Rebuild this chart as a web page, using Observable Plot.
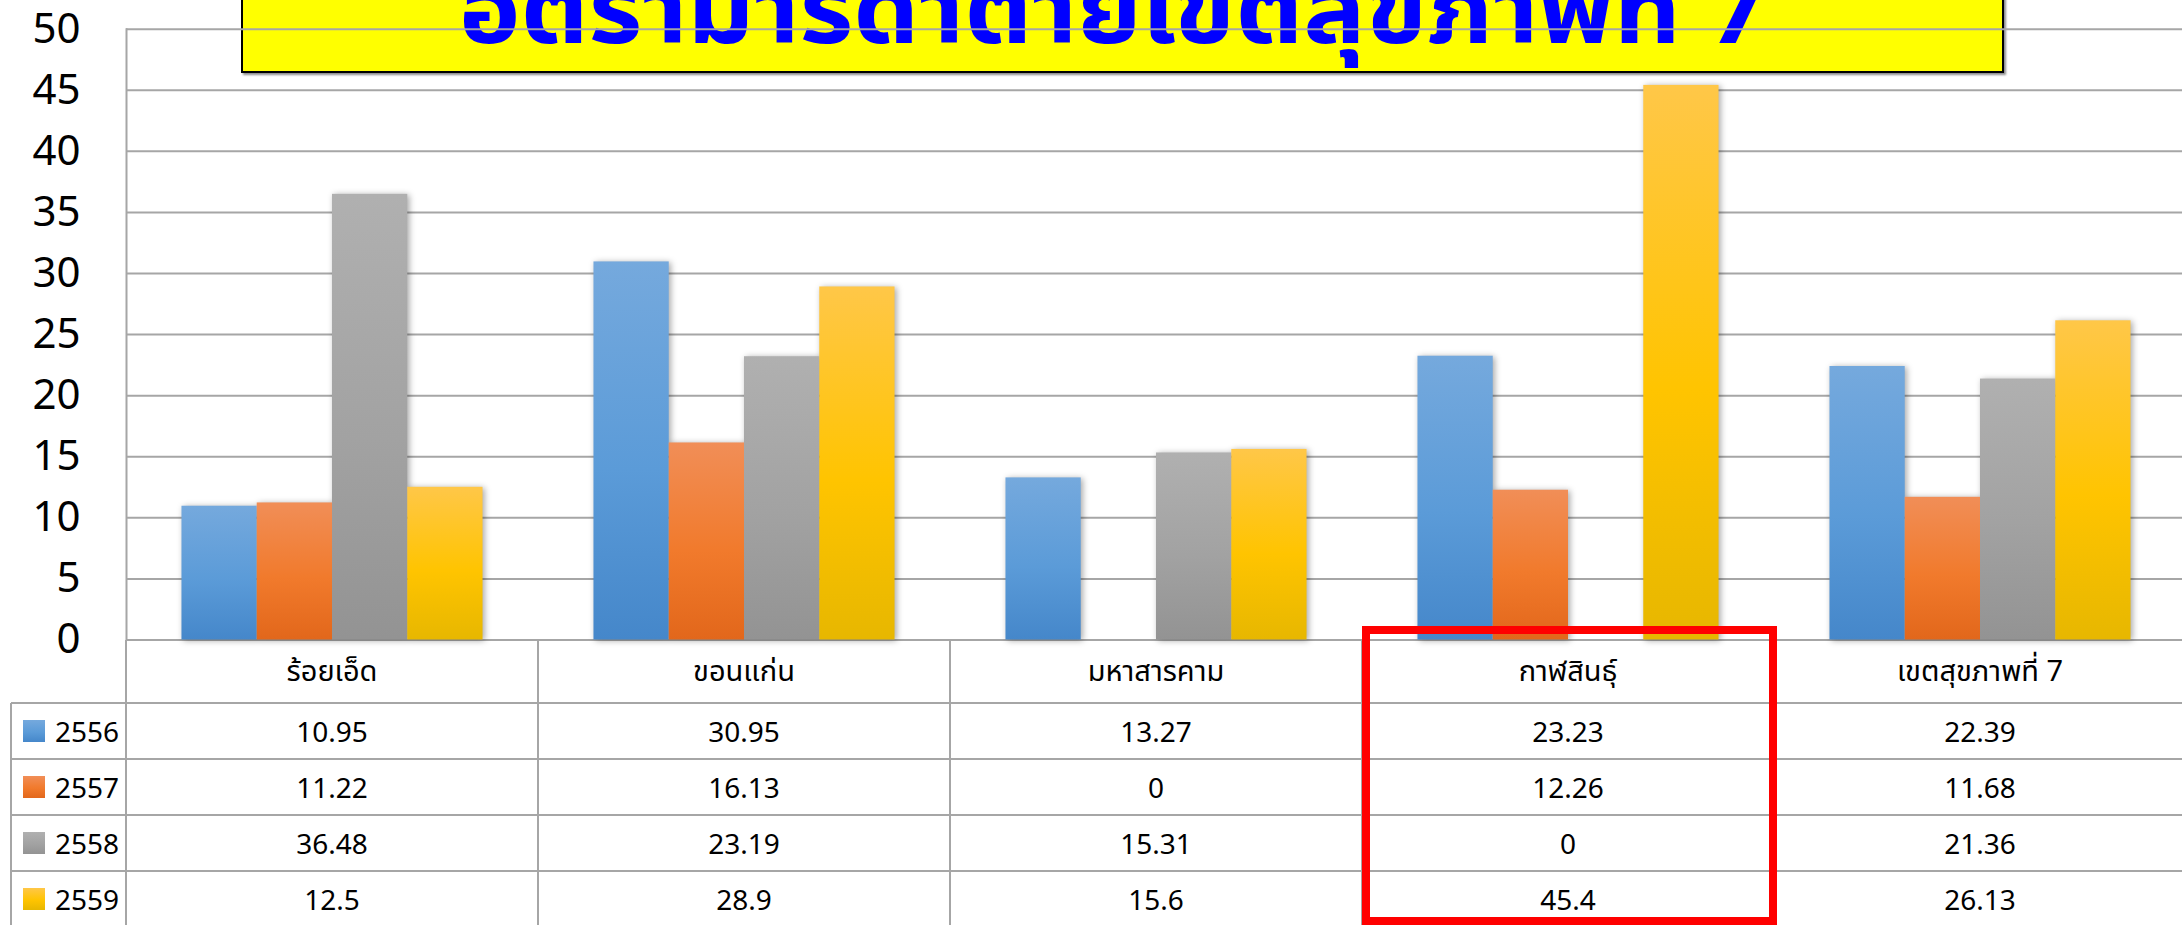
<!DOCTYPE html>
<html>
<head>
<meta charset="utf-8">
<script src="https://cdn.jsdelivr.net/npm/d3@7"></script>
<script src="https://cdn.jsdelivr.net/npm/@observablehq/plot@0.6"></script>
<style>
  html, body { margin: 0; padding: 0; background: #fff; }
  #root { position: relative; width: 2182px; height: 925px; overflow: hidden;
          font-family: "Noto Sans", "Noto Sans Thai", "Loma", "Garuda", sans-serif; color: #000; }
  .abs { position: absolute; }
  .cell { position: absolute; display: flex; align-items: center; justify-content: center; white-space: nowrap; }
</style>
</head>
<body>
<div id="root"></div>
<script>
// ---------------- data ----------------
const title = "อัตรามารดาตายเขตสุขภาพที่ 7";
const categories = ["ร้อยเอ็ด", "ขอนแก่น", "มหาสารคาม", "กาฬสินธุ์", "เขตสุขภาพที่ 7"];
const years = ["2556", "2557", "2558", "2559"];
const v2556 = [10.95, 30.95, 13.27, 23.23, 22.39];
const v2557 = [11.22, 16.13, 0, 12.26, 11.68];
const v2558 = [36.48, 23.19, 15.31, 0, 21.36];
const v2559 = [12.5, 28.9, 15.6, 45.4, 26.13];
const yTicks = [0, 5, 10, 15, 20, 25, 30, 35, 40, 45, 50];
const highlighted = "กาฬสินธุ์";

// ---------------- styles ----------------
const gradientStops = {
  "2556": ["#75a9dd", "#5b9bd8", "#4587ca"],
  "2557": ["#f18e57", "#f17a2c", "#e2671b"],
  "2558": ["#b0b0b0", "#a2a2a2", "#939393"],
  "2559": ["#ffc748", "#ffc400", "#e7b700"]
};
const gridColor = "#a6a6a6";

const series = [v2556, v2557, v2558, v2559];
const rows = categories.flatMap((c, i) => years.map((y, j) => ({cat: c, year: y, value: series[j][i]})));

const root = document.getElementById("root");

// title box (behind the chart: gridlines pass over it)
const box = document.createElement("div");
box.className = "abs";
Object.assign(box.style, {left: "241px", top: "-30px", width: "1763px", height: "103px",
  background: "#ffff00", border: "2px solid #000", boxSizing: "border-box",
  boxShadow: "2px 2px 2px rgba(0,0,0,0.45)", zIndex: 1});
root.appendChild(box);

const tsvg = d3.create("svg").attr("width", 2182).attr("height", 90)
  .attr("class", "abs").style("left", "0px").style("top", "0px").style("z-index", 2);
tsvg.append("text")
  .attr("x", 459).attr("y", 43)
  .attr("textLength", 1308).attr("lengthAdjust", "spacingAndGlyphs")
  .attr("fill", "#0000ff")
  .attr("font-family", "'Noto Sans Thai', 'Noto Sans Thai UI', Loma, Garuda, Tahoma, 'Noto Sans', sans-serif")
  .attr("font-weight", "bold").attr("font-size", 96)
  .text(title);
root.appendChild(tsvg.node());

// ---------------- chart ----------------
const chart = Plot.plot({
  width: 2182,
  height: 644,
  marginTop: 28.7,
  marginBottom: 4.5,
  marginLeft: 126,
  marginRight: -4,
  style: {fontFamily: "'Noto Sans', sans-serif", fontSize: "42px", background: "transparent", color: "#000", overflow: "visible"},
  fx: {domain: categories, padding: 0, axis: null, round: false},
  x: {domain: years, paddingInner: 0, paddingOuter: 0.737, axis: null, round: false},
  y: {domain: [0, 50], ticks: yTicks, tickSize: 0, tickPadding: 46, label: null},
  color: {domain: years, range: years.map(y => `url(#grad-${y})`)},
  marks: [
    Plot.ruleY(yTicks, {stroke: gridColor, strokeWidth: 2}),
    Plot.frame({anchor: "left", fx: categories[0], stroke: gridColor, strokeWidth: 2}),
    Plot.barY(rows, {fx: "cat", x: "year", y: "value", fill: "year",
      imageFilter: "drop-shadow(2px 1px 3px rgba(0,0,0,0.35))"})
  ]
});
const csvg = d3.select(chart);
const defs = csvg.insert("defs", ":first-child");
for (const y of years) {
  const g = defs.append("linearGradient").attr("id", `grad-${y}`)
    .attr("x1", 0).attr("y1", 0).attr("x2", 0).attr("y2", 1);
  const st = gradientStops[y];
  g.append("stop").attr("offset", "0%").attr("stop-color", st[0]);
  g.append("stop").attr("offset", "55%").attr("stop-color", st[1]);
  g.append("stop").attr("offset", "100%").attr("stop-color", st[2]);
}
const cwrap = document.createElement("div");
cwrap.className = "abs";
Object.assign(cwrap.style, {left: "0px", top: "0px", zIndex: 3});
cwrap.appendChild(chart);
root.appendChild(cwrap);

// ---------------- data table (below chart) ----------------
const fx = chart.scale("fx");
const bw = fx.bandwidth;
const colX = c => fx.apply ? fx.apply(c) : fx.range[0] + categories.indexOf(c) * bw;
const tableTop = 640, headerH = 63.3, rowH = 55.8, legendLeft = 11;
const plotLeft = colX(categories[0]);

const tbl = document.createElement("div");
tbl.className = "abs";
Object.assign(tbl.style, {left: "0px", top: "0px", width: "2182px", height: "925px", zIndex: 4});
root.appendChild(tbl);

function line(x, y, w, h) {
  const d = document.createElement("div");
  d.className = "abs";
  Object.assign(d.style, {left: x + "px", top: y + "px", width: w + "px", height: h + "px", background: gridColor});
  tbl.appendChild(d);
}
const bottom = tableTop + headerH + rowH * years.length;
// vertical lines
for (const c of categories) line(colX(c) - 1, tableTop, 2, bottom - tableTop);
line(legendLeft - 1, tableTop + headerH, 2, bottom - tableTop - headerH);
// horizontal lines
years.forEach((y, j) => line(legendLeft, tableTop + headerH + j * rowH - 1, 2182 - legendLeft, 2));

function cell(x, y, w, h, text, size, extra) {
  const d = document.createElement("div");
  d.className = "cell";
  Object.assign(d.style, {left: x + "px", top: y + "px", width: w + "px", height: h + "px", fontSize: size + "px"}, extra || {});
  d.textContent = text;
  tbl.appendChild(d);
  return d;
}
categories.forEach(c => cell(colX(c), tableTop, bw, headerH, c, 29,
  {fontFamily: "'Noto Sans Thai', 'Noto Sans', Loma, Garuda, sans-serif"}));
years.forEach((y, j) => {
  const top = tableTop + headerH + j * rowH;
  categories.forEach((c, i) => cell(colX(c), top, bw, rowH, String(series[j][i]), 28));
  const lg = cell(legendLeft, top, plotLeft - legendLeft, rowH, "", 28, {justifyContent: "flex-start"});
  const sw = document.createElement("span");
  const st = gradientStops[y];
  Object.assign(sw.style, {display: "inline-block", width: "22px", height: "22px", marginLeft: "12px", marginRight: "10px",
    background: `linear-gradient(${st[0]}, ${st[1]} 55%, ${st[2]})`});
  lg.appendChild(sw);
  lg.appendChild(document.createTextNode(y));
});

// highlight box around one column
const red = document.createElement("div");
red.className = "abs";
Object.assign(red.style, {left: colX(highlighted) + "px", top: "626px", width: (bw + 3) + "px", height: "299px",
  border: "8px solid #ff0000", boxSizing: "border-box", zIndex: 5});
root.appendChild(red);
</script>
</body>
</html>
